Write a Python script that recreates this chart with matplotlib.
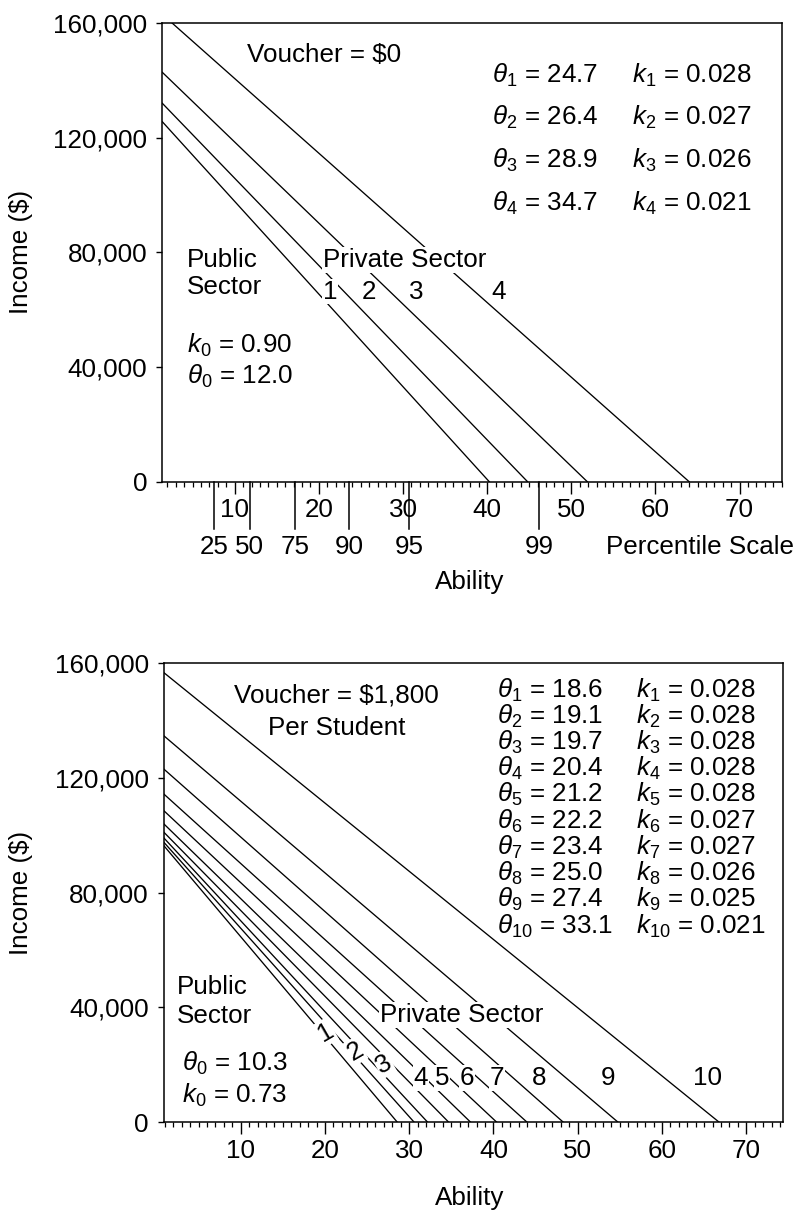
#===============================================================================
# Income vs ability, public and private sector (two voucher cases)
#===============================================================================
import numpy as np
import matplotlib
matplotlib.use("Agg")
import matplotlib.pyplot as plt
from matplotlib.ticker import FuncFormatter, MultipleLocator

plt.rcParams['font.family'] = ['Liberation Sans', 'DejaVu Sans']
plt.rcParams['mathtext.fontset'] = 'custom'
plt.rcParams['mathtext.rm'] = 'Liberation Sans'
plt.rcParams['mathtext.it'] = 'Liberation Sans:italic'

#===============================================================================
# Data
#===============================================================================
# top panel: voucher = $0, private sector lines 1..4
top_income0 = [130100, 136260, 146760, 166670]   # income at ability 0
top_zero = [40.25, 44.8, 51.9, 64.0]             # ability where income hits 0
top_theta = ['24.7', '26.4', '28.9', '34.7']
top_k = ['0.028', '0.027', '0.026', '0.021']
pct_labels = ['25', '50', '75', '90', '95', '99']
pct_ability = [7.6, 11.8, 17.2, 23.6, 30.7, 46.2]

# bottom panel: voucher = $1,800, private sector lines 1..10
bot_income0 = [99430, 100450, 101850, 103690, 106470,
               110970, 116690, 125340, 136850, 158740]
bot_zero = [28.6, 30.6, 32.2, 34.7, 37.3, 40.4, 44.0, 48.3, 54.8, 66.8]
bot_theta = ['18.6', '19.1', '19.7', '20.4', '21.2',
             '22.2', '23.4', '25.0', '27.4', '33.1']
bot_k = ['0.028', '0.028', '0.028', '0.028', '0.028',
         '0.027', '0.027', '0.026', '0.025', '0.021']

yticks = [0, 40000, 80000, 120000, 160000]
xticks = [10, 20, 30, 40, 50, 60, 70]

FS = 18.7
W, H = 799, 1213

#===============================================================================
# Code
#===============================================================================
def style_axes(ax, xlim):
    ax.set_xlim(*xlim)
    ax.set_ylim(0, 160000)
    ax.set_yticks(yticks)
    ax.yaxis.set_major_formatter(FuncFormatter(lambda v, p: '{:,.0f}'.format(v)))
    ax.set_xticks(xticks)
    ax.xaxis.set_minor_locator(MultipleLocator(1))
    ax.tick_params(axis='y', direction='out', length=4.5, width=1, pad=6.5, labelsize=FS)
    ax.tick_params(axis='x', which='major', direction='out', length=8.5, width=1,
                   pad=3.5, labelsize=FS)
    ax.tick_params(axis='x', which='minor', direction='out', length=3.6, width=0.9)
    for s in ax.spines.values():
        s.set_linewidth(1.1)


def draw_lines(ax, income0, zero, x0):
    for a, z in zip(income0, zero):
        xs = np.array([x0, z])
        ax.plot(xs, a - a / z * xs, color='black', lw=0.95)


def label(ax, x, y, s, rot=0, ha='center'):
    ax.text(x, y, s, fontsize=FS, ha=ha, va='center', rotation=rot,
            bbox=dict(fc='white', ec='none', pad=0.6))


fig = plt.figure(figsize=(W / 100, H / 100), dpi=100)

# ---------------- top panel ----------------
ax1 = fig.add_axes([162.3 / W, 1 - 481.7 / H, 619.4 / W, 458.7 / H])
style_axes(ax1, (1.4, 75.0))
draw_lines(ax1, top_income0, top_zero, 1.4)

ax1.text(20.6, 148800, 'Voucher = $0', fontsize=FS, ha='center', va='center')
for i, (t, k) in enumerate(zip(top_theta, top_k)):
    y = 141850 - i * 14900
    ax1.text(40.6, y, r'$\theta_{%d}$ = %s' % (i + 1, t), fontsize=FS, va='center')
    ax1.text(57.2, y, r'$k_{%d}$ = %s' % (i + 1, k), fontsize=FS, va='center')
ax1.text(4.3, 77330, 'Public', fontsize=FS, va='center')
ax1.text(4.3, 68020, 'Sector', fontsize=FS, va='center')
label(ax1, 20.5, 77330, 'Private Sector', ha='left')
for n, x in zip(['1', '2', '3', '4'], [21.3, 25.9, 31.6, 41.4]):
    label(ax1, x, 66270, n)
ax1.text(4.3, 47680, r'$k_0$ = 0.90', fontsize=FS, va='center')
ax1.text(4.3, 36620, r'$\theta_0$ = 12.0', fontsize=FS, va='center')

# percentile scale under the ability axis
trans = ax1.get_xaxis_transform()
for x, p in zip(pct_ability, pct_labels):
    ax1.plot([x, x], [0, -0.103], color='black', lw=1.1, transform=trans, clip_on=False)
    ax1.text(x, -0.142, p, fontsize=FS, ha='center', va='center', transform=trans)
ax1.text(65.3, -0.142, 'Percentile Scale', fontsize=FS, ha='center', va='center',
         transform=trans)

fig.text(470 / W, 1 - 582 / H, 'Ability', fontsize=FS, ha='center', va='center')
fig.text(21 / W, 1 - 252 / H, 'Income ($)', fontsize=FS, ha='center', va='center',
         rotation=90)

# ---------------- bottom panel ----------------
ax2 = fig.add_axes([164 / W, 1 - 1122.3 / H, 619.3 / W, 459.3 / H])
style_axes(ax2, (0.9, 74.4))
draw_lines(ax2, bot_income0, bot_zero, 0.9)

ax2.text(21.3, 148530, 'Voucher = $1,800', fontsize=FS, ha='center', va='center')
ax2.text(21.4, 137300, 'Per Student', fontsize=FS, ha='center', va='center')
for i, (t, k) in enumerate(zip(bot_theta, bot_k)):
    y = 150620 - i * 9142
    ax2.text(40.4, y, r'$\theta_{%d}$ = %s' % (i + 1, t), fontsize=FS, va='center')
    ax2.text(56.9, y, r'$k_{%d}$ = %s' % (i + 1, k), fontsize=FS, va='center')
ax2.text(2.4, 47030, 'Public', fontsize=FS, va='center')
ax2.text(2.4, 36950, 'Sector', fontsize=FS, va='center')
label(ax2, 26.5, 37300, 'Private Sector', ha='left')
label(ax2, 20.1, 31390, '1', rot=30)
label(ax2, 23.6, 24780, '2', rot=30)
label(ax2, 27.0, 20270, '3', rot=30)
for n, x in zip(['4', '5', '6', '7', '8', '9', '10'],
                [31.4, 33.9, 36.9, 40.4, 45.4, 53.6, 65.4]):
    label(ax2, x, 15400, n)
ax2.text(3.0, 20610, r'$\theta_0$ = 10.3', fontsize=FS, va='center')
ax2.text(3.0, 9490, r'$k_0$ = 0.73', fontsize=FS, va='center')

fig.text(470 / W, 1 - 1198 / H, 'Ability', fontsize=FS, ha='center', va='center')
fig.text(21 / W, 1 - 893 / H, 'Income ($)', fontsize=FS, ha='center', va='center',
         rotation=90)

fig.savefig('out.png', dpi=100)
